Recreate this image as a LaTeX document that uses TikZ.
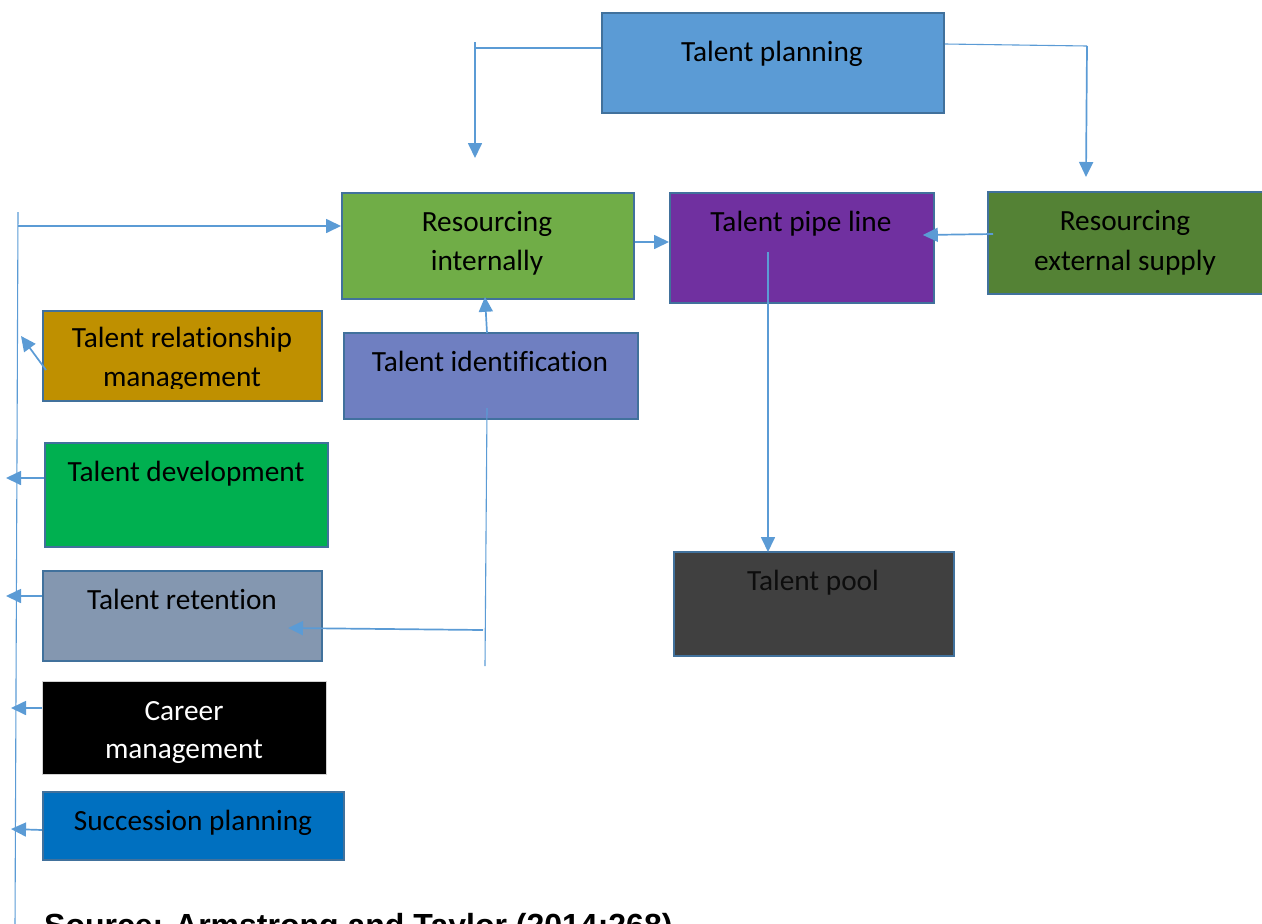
\documentclass[tikz,border=0pt]{standalone}
\usepackage{fontspec}
\setmainfont[Ligatures=NoCommon]{Carlito}
\newfontfamily\arialfont{Liberation Sans}
\usetikzlibrary{arrows.meta,calc}
\definecolor{lineblue}{HTML}{5B9BD5}
\definecolor{boxborder}{HTML}{41719C}
\definecolor{cplan}{HTML}{5B9BD5}
\definecolor{cresint}{HTML}{70AD47}
\definecolor{cpipe}{HTML}{7030A0}
\definecolor{cresext}{HTML}{548235}
\definecolor{crel}{HTML}{BF9000}
\definecolor{cident}{HTML}{6F7FC1}
\definecolor{cdev}{HTML}{00B050}
\definecolor{cret}{HTML}{8497B0}
\definecolor{csucc}{HTML}{0070C0}
\definecolor{cpool}{HTML}{404040}
\definecolor{cpooltext}{HTML}{0D0D0D}
\begin{document}
\begin{tikzpicture}[x=1pt,y=-1pt,
  box/.style={draw=boxborder, line width=1.8pt, rectangle, inner sep=0pt, anchor=north west},
  txt/.style={font=\fontsize{29.3}{38}\selectfont, inner sep=0pt, anchor=base, text=black},
  conn/.style={draw=lineblue, line width=1.7pt},
  thinconn/.style={draw=lineblue, line width=1.1pt},
  arr/.style={conn, -{Triangle[length=15pt,width=14pt]}}]
\useasboundingbox (0,0) rectangle (1262,924);

% boxes
\node[box, fill=cplan, minimum width=342pt, minimum height=100pt] (tp) at (601,12) {};
\node[box, fill=cresint, minimum width=292pt, minimum height=106pt] (ri) at (341,192) {};
\node[box, fill=cpipe, minimum width=264pt, minimum height=110pt] (pl) at (669,192) {};
\node[box, fill=cresext, minimum width=276pt, minimum height=102pt] (re) at (987,191) {};
\node[box, fill=crel, minimum width=279pt, minimum height=90pt] (trm) at (42,310) {};
\node[box, fill=cident, minimum width=294pt, minimum height=86pt] (tid) at (343,332) {};
\node[box, fill=cdev, minimum width=283pt, minimum height=104pt] (tdv) at (44,442) {};
\node[box, fill=cret, minimum width=279pt, minimum height=90pt] (tr) at (42,570) {};
\node[box, fill=black, draw=gray!35, line width=1pt, minimum width=284pt, minimum height=93pt] (cm) at (42,681) {};
\node[box, fill=csucc, minimum width=301pt, minimum height=68pt] (sp) at (42,791) {};
\node[box, fill=cpool, minimum width=280pt, minimum height=104pt] (pool) at (673,551) {};

% texts
\node[txt] (tpt) at (772,61) {Talent planning};
\node[txt] (rit1) at (487,231) {Resourcing};
\node[txt] (rit2) at (487,270) {internally};
\node[txt] (plt) at (801,231) {Talent pipe line};
\node[txt] (ret1) at (1125,230) {Resourcing};
\node[txt] (ret2) at (1125,270) {external supply};
\begin{scope}
\clip (42,305) rectangle (321,388);
\node[txt] (trmt1) at (182,347) {Talent relationship};
\node[txt] (trmt2) at (182,386) {management};
\end{scope}
\node[txt] (tidt) at (490,371) {Talent identification};
\node[txt] (tdvt) at (186,481) {Talent development};
\node[txt] (trt) at (182,609) {Talent retention};
\begin{scope}
\clip (42,681) rectangle (326,762);
\node[txt, text=white] (cmt1) at (184,720) {Career};
\node[txt, text=white] (cmt2) at (184,758) {management};
\end{scope}
\node[txt] (spt) at (193,830) {Succession planning};
\node[txt, text=cpooltext] (poolt) at (813,590) {Talent pool};

% source
\node[font=\arialfont\bfseries\fontsize{32}{36}\selectfont, anchor=base west, inner sep=0pt] (src) at (44,936) {Source: Armstrong and Taylor (2014:268)};

% connectors from Talent planning
\coordinate (tpLcorner) at (475,48);
\coordinate (tpLtop) at (475,42);
\coordinate (tpLend) at (475,158);
\draw[thinconn] (tp.west |- tpLcorner) -- (tpLcorner);
\draw[arr] (tpLtop) -- (tpLend);
\coordinate (tpRcorner) at (1087,46);
\coordinate (tpRend) at (1086,177);
\draw[thinconn] ($(tp.north east)+(0,32)$) -- (tpRcorner);
\draw[arr] (tpRcorner) -- (tpRend);

% left spine
\coordinate (spineTop) at (18,212);
\coordinate (spineBot) at (15,930);
\draw[thinconn] (spineTop) -- (spineBot);
\coordinate (spineA) at (18,226);
\draw[arr] (spineA) -- ($(ri.north west)+(0,34)$);

% arrows into the spine
\coordinate (relEnd) at (21,336);
\draw[arr] ($(trm.north west)+(4,60)$) -- (relEnd);
\coordinate (devEnd) at (6,478);
\draw[arr] ($(tdv.north west)+(0,36)$) -- (devEnd);
\coordinate (retEnd) at (6,596);
\draw[arr] ($(tr.north west)+(0,26)$) -- (retEnd);
\coordinate (cmEnd) at (11,708);
\draw[arr] ($(cm.north west)+(0,27)$) -- (cmEnd);
\coordinate (spEnd) at (11,829);
\draw[arr] ($(sp.north west)+(0,39)$) -- (spEnd);

% middle connectors
\draw[arr] ($(ri.north east)+(0,50)$) -- ($(pl.north west)+(0,50)$);
\draw[arr] ($(re.north west)+(6,43)$) -- ($(pl.north east)+(-12,43)$);
\draw[arr] ($(pl.north west)+(99,60)$) -- ($(pool.north west)+(95,1)$);
\draw[arr] ($(tid.north west)+(144,1)$) -- ($(ri.south west)+(144,-3)$);
\coordinate (idBot) at (485,666);
\draw[thinconn] ($(tid.north west)+(144,76)$) -- (idBot);
\coordinate (idRet) at (483,630);
\draw[arr] (idRet) -- ($(tr.north west)+(246,58)$);
\end{tikzpicture}
\end{document}
